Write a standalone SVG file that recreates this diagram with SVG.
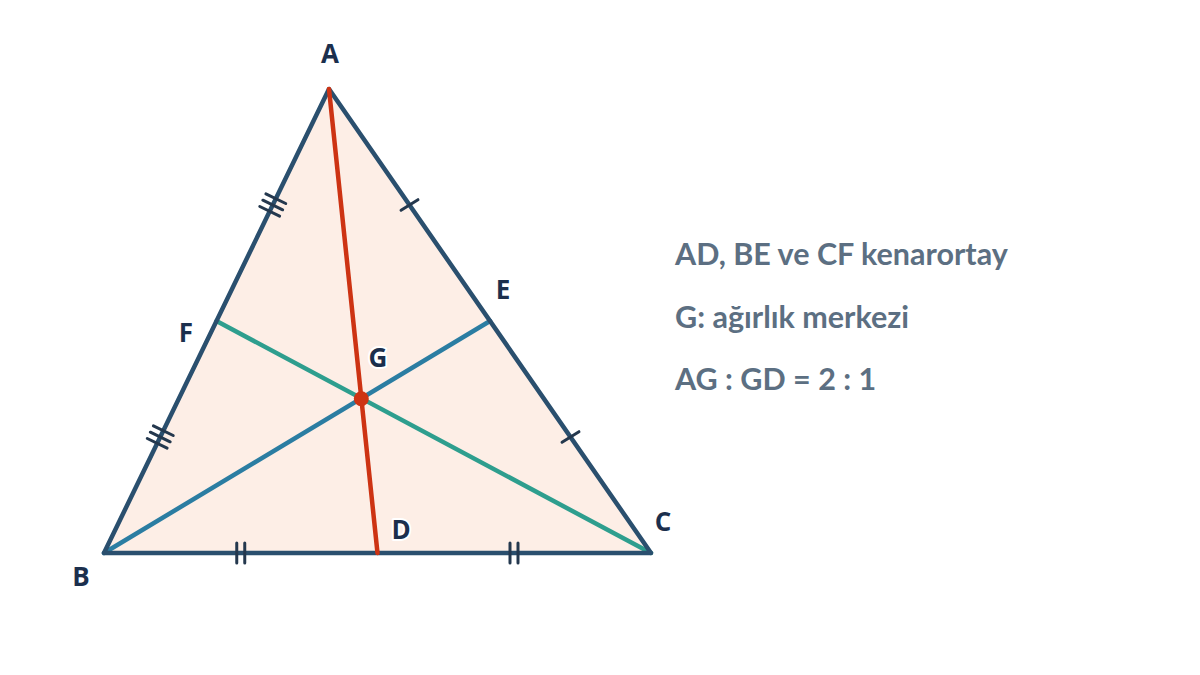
<svg xmlns="http://www.w3.org/2000/svg" width="1200" height="675" viewBox="0 0 1200 675">
<style>
.side{stroke:#2a4f6e;stroke-width:4.5;fill:none;stroke-linejoin:round;stroke-linecap:round}
.tick{stroke:#24384e;stroke-width:3;stroke-linecap:round}
.lbl{font-family:"Open Sans","Liberation Sans",sans-serif;font-weight:700;font-size:26px;fill:#1b2f4d;stroke:#ffffff;stroke-width:4;paint-order:stroke;stroke-linejoin:round}
.note{font-family:Lato,"Liberation Sans",sans-serif;font-weight:700;font-size:30.5px;fill:#5c6f82}
</style>
<rect width="1200" height="675" fill="#ffffff"/>
<g id="triangle">
<polygon points="329,89 104,553 651,553" fill="#fdeee6" stroke="none"/>
</g>
<g id="connectors">
<line id="CF" x1="651" y1="553" x2="216.5" y2="321" stroke="#2e9e8e" stroke-width="4.5" stroke-linecap="round"/>
<line id="BE" x1="104" y1="553" x2="490" y2="321" stroke="#2b7da2" stroke-width="4.5" stroke-linecap="round"/>
<polygon class="side" points="329,89 104,553 651,553"/>
<line id="AD" x1="329" y1="89" x2="377.5" y2="553" stroke="#cd3313" stroke-width="4.5" stroke-linecap="round"/>
</g>
<g id="ticks">
<g transform="translate(272.75,205) rotate(25.87)">
<line class="tick" x1="-11" y1="-7" x2="11" y2="-7"/><line class="tick" x1="-11" y1="0" x2="11" y2="0"/><line class="tick" x1="-11" y1="7" x2="11" y2="7"/>
</g>
<g transform="translate(160.25,437) rotate(25.87)">
<line class="tick" x1="-11" y1="-7" x2="11" y2="-7"/><line class="tick" x1="-11" y1="0" x2="11" y2="0"/><line class="tick" x1="-11" y1="7" x2="11" y2="7"/>
</g>
<g transform="translate(409.5,205) rotate(-32.14)">
<line class="tick" x1="-10" y1="0" x2="10" y2="0"/>
</g>
<g transform="translate(570.5,437) rotate(-32.14)">
<line class="tick" x1="-10" y1="0" x2="10" y2="0"/>
</g>
<g transform="translate(240.75,553)">
<line class="tick" x1="-4" y1="-10" x2="-4" y2="10"/><line class="tick" x1="4" y1="-10" x2="4" y2="10"/>
</g>
<g transform="translate(514,553)">
<line class="tick" x1="-4" y1="-10" x2="-4" y2="10"/><line class="tick" x1="4" y1="-10" x2="4" y2="10"/>
</g>
</g>
<g id="G">
<circle cx="361.3" cy="398.8" r="7.5" fill="#cd3313"/>
<text class="lbl" x="378" y="367" text-anchor="middle">G</text>
</g>
<g id="A"><text class="lbl" x="330" y="63" text-anchor="middle">A</text></g>
<g id="B"><text class="lbl" x="81" y="586" text-anchor="middle">B</text></g>
<g id="C"><text class="lbl" x="663" y="531" text-anchor="middle">C</text></g>
<g id="D"><text class="lbl" x="401" y="539" text-anchor="middle">D</text></g>
<g id="E"><text class="lbl" x="503" y="299" text-anchor="middle">E</text></g>
<g id="F"><text class="lbl" x="186" y="342" text-anchor="middle">F</text></g>
<g id="notes">
<text class="note" x="675" y="265">AD, BE ve CF kenarortay</text>
<text class="note" x="675" y="328">G: ağırlık merkezi</text>
<text class="note" x="675" y="390">AG : GD = 2 : 1</text>
</g>
</svg>
